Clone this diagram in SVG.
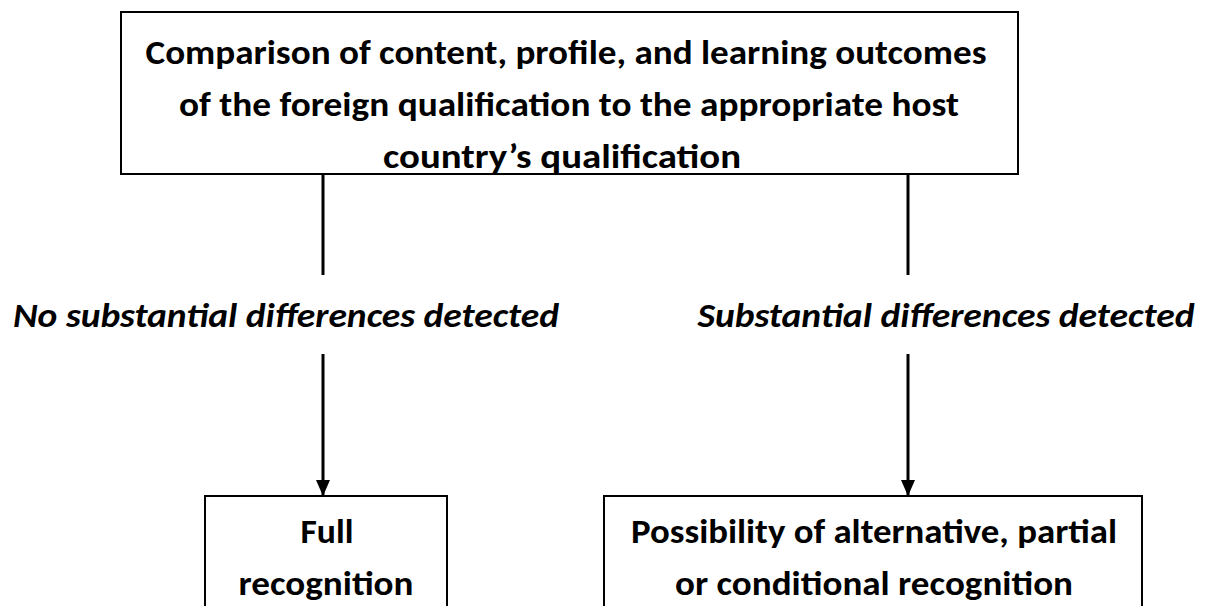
<svg xmlns="http://www.w3.org/2000/svg" width="1214" height="606" viewBox="0 0 1214 606">
  <style>
    .box { fill: #ffffff; stroke: #000000; stroke-width: 2; }
    .t { font-family: Carlito, Lato, "Liberation Sans", sans-serif; font-weight: 700; font-size: 35px; fill: #000000; text-anchor: middle; }
    .lbl { font-family: Carlito, Lato, "Liberation Sans", sans-serif; font-weight: 700; font-style: italic; font-size: 35px; fill: #000000; text-anchor: middle; }
    .conn { stroke: #000000; stroke-width: 3; fill: none; }
  </style>
  <defs>
    <marker id="arrow" viewBox="0 0 16 14" refX="16" refY="7" markerWidth="16" markerHeight="14" markerUnits="userSpaceOnUse" orient="auto">
      <path d="M0,0 L16,7 L0,14 Z" fill="#000000"/>
    </marker>
    <clipPath id="topClip">
      <rect x="122" y="13" width="895" height="160"/>
    </clipPath>
  </defs>

  <rect width="1214" height="606" fill="#ffffff"/>

  <!-- connectors -->
  <g id="connectors">
    <line class="conn" x1="323" y1="174" x2="323" y2="275"/>
    <line class="conn" x1="323" y1="354" x2="323" y2="496" marker-end="url(#arrow)"/>
    <line class="conn" x1="908" y1="174" x2="908" y2="275"/>
    <line class="conn" x1="908" y1="354" x2="908" y2="496" marker-end="url(#arrow)"/>
    <text class="lbl" x="286" y="327" textLength="546" lengthAdjust="spacingAndGlyphs">No substantial differences detected</text>
    <text class="lbl" x="946" y="327" textLength="497" lengthAdjust="spacingAndGlyphs">Substantial differences detected</text>
  </g>

  <!-- comparison step -->
  <g id="comparison">
    <rect class="box" x="121" y="12" width="897" height="162"/>
    <g clip-path="url(#topClip)">
      <text class="t" x="566" y="64" textLength="841" lengthAdjust="spacingAndGlyphs">Comparison of content, profile, and learning outcomes</text>
      <text class="t" x="569" y="116" textLength="780" lengthAdjust="spacingAndGlyphs">of the foreign qualification to the appropriate host</text>
      <text class="t" x="562" y="168" textLength="358" lengthAdjust="spacingAndGlyphs">country’s qualification</text>
    </g>
  </g>

  <!-- outcome: full recognition -->
  <g id="full-recognition">
    <rect class="box" x="205" y="496" width="242" height="130"/>
    <text class="t" x="327" y="543" textLength="53" lengthAdjust="spacingAndGlyphs">Full</text>
    <text class="t" x="326" y="595" textLength="175" lengthAdjust="spacingAndGlyphs">recognition</text>
  </g>

  <!-- outcome: alternative / partial / conditional recognition -->
  <g id="partial-recognition">
    <rect class="box" x="604" y="496" width="538" height="130"/>
    <text class="t" x="874" y="543" textLength="486" lengthAdjust="spacingAndGlyphs">Possibility of alternative, partial</text>
    <text class="t" x="874" y="595" textLength="398" lengthAdjust="spacingAndGlyphs">or conditional recognition</text>
  </g>
</svg>
